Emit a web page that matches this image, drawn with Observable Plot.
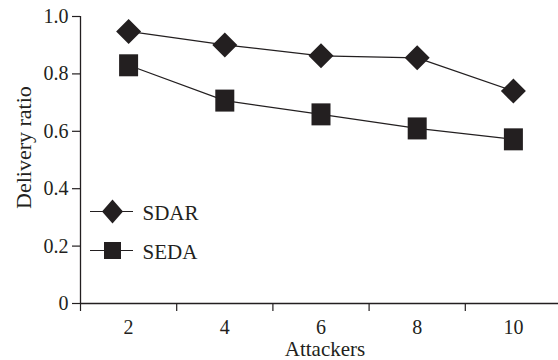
<!DOCTYPE html>
<html>
<head>
<meta charset="utf-8">
<script src="https://cdn.jsdelivr.net/npm/d3@7"></script>
<script src="https://cdn.jsdelivr.net/npm/@observablehq/plot@0.6"></script>
<style>
  html, body { margin: 0; padding: 0; background: #fff; }
  svg, svg text { font-family: "Liberation Serif", "Times New Roman", serif !important; }
</style>
</head>
<body>
<div id="chart"></div>
<script>
const attackers = [2, 4, 6, 8, 10];
const sdar = [0.948, 0.901, 0.863, 0.856, 0.740];
const seda = [0.830, 0.707, 0.659, 0.610, 0.572];
const seriesNames = ["SDAR", "SEDA"];
const yTicks = [0, 0.2, 0.4, 0.6, 0.8, 1.0];
const xBoundaryTicks = [1, 3, 5, 7, 9];

const ink = "#231f20";
const serif = "Liberation Serif";

const data = [
  ...attackers.map((a, i) => ({series: seriesNames[0], x: a, y: sdar[i]})),
  ...attackers.map((a, i) => ({series: seriesNames[1], x: a, y: seda[i]}))
];

function diamond(w, h) {
  return {draw(ctx) {
    ctx.moveTo(0, -h / 2); ctx.lineTo(w / 2, 0); ctx.lineTo(0, h / 2); ctx.lineTo(-w / 2, 0); ctx.closePath();
  }};
}
function rect(w, h) {
  return {draw(ctx) {
    ctx.moveTo(-w / 2, -h / 2); ctx.lineTo(w / 2, -h / 2); ctx.lineTo(w / 2, h / 2); ctx.lineTo(-w / 2, h / 2); ctx.closePath();
  }};
}
function hline(len) {
  return {draw(ctx) { ctx.moveTo(-len / 2, 0); ctx.lineTo(len / 2, 0); }};
}

const sym = {SDAR: diamond(25, 25), SEDA: rect(19, 22)};
const legSym = {SDAR: diamond(21, 24), SEDA: rect(17, 17)};

const legendMarks = seriesNames.flatMap((name, i) => [
  Plot.dot([name], {frameAnchor: "top-left", dx: 31, dy: 195 + i * 39, symbol: hline(43), r: 5, stroke: ink, strokeWidth: 1.2, fill: "none"}),
  Plot.dot([name], {frameAnchor: "top-left", dx: 32, dy: 195 + i * 39, symbol: legSym[name], r: 5, fill: ink, stroke: "none"}),
  Plot.text([name], {frameAnchor: "top-left", dx: 62, dy: 197 + i * 39, text: d => d, textAnchor: "start", lineAnchor: "middle", fontSize: 21, fontFamily: serif, fill: ink})
]);

const chart = Plot.plot({
  width: 558,
  height: 360,
  marginLeft: 80,
  marginRight: -3,
  marginTop: 16,
  marginBottom: 57,
  style: {fontFamily: serif, fontSize: "20px", color: ink, background: "#fff"},
  x: {type: "linear", domain: [1, 11]},
  y: {domain: [0, 1]},
  marks: [
    Plot.axisY({ticks: yTicks, tickSize: 8, tickPadding: 4, stroke: ink, strokeWidth: 1.2, fill: ink, fontSize: 20, fontFamily: serif, tickFormat: d => d === 0 ? "0" : d.toFixed(1), label: null}),
    Plot.axisX({ticks: attackers, tickSize: 0, tickPadding: 16, fill: ink, fontSize: 20, fontFamily: serif, tickFormat: d => String(d), label: null}),
    Plot.axisX({ticks: xBoundaryTicks, tickSize: 8, stroke: ink, strokeWidth: 1.2, tickFormat: () => "", label: null}),
    Plot.ruleY([0], {stroke: ink, strokeWidth: 1.3}),
    Plot.ruleX([1], {y1: 0, y2: 1, stroke: ink, strokeWidth: 1.3}),
    Plot.text(["Delivery ratio"], {frameAnchor: "left", dx: -57, dy: 49, rotate: -90, text: d => d, fontSize: 22, fontFamily: serif, fill: ink}),
    Plot.text(["Attackers"], {frameAnchor: "bottom", dx: 4, dy: 52, lineAnchor: "bottom", text: d => d, fontSize: 21, fontFamily: serif, fill: ink}),
    Plot.line(data, {x: "x", y: "y", z: "series", stroke: ink, strokeWidth: 1.2}),
    ...seriesNames.map(name => Plot.dot(data.filter(d => d.series === name), {x: "x", y: "y", symbol: sym[name], r: 5, fill: ink, stroke: "none"})),
    ...legendMarks
  ]
});

document.getElementById("chart").appendChild(chart);
</script>
</body>
</html>
